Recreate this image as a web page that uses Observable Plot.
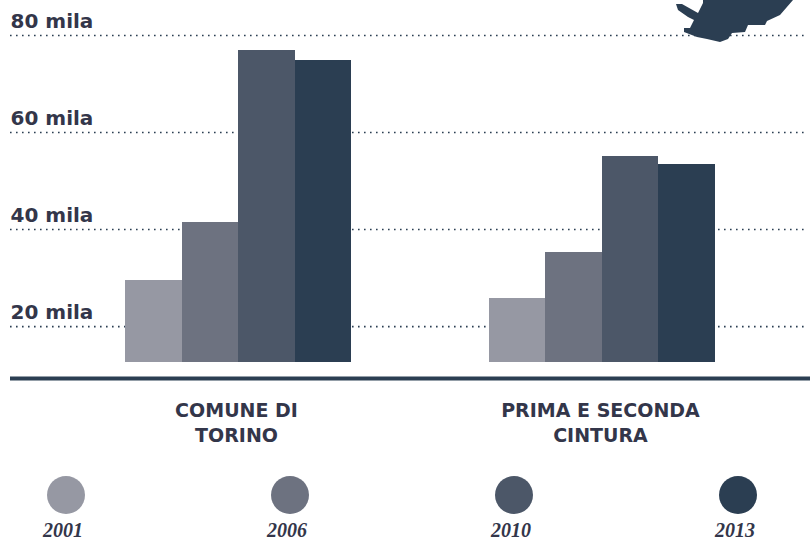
<!DOCTYPE html>
<html><head><meta charset="utf-8">
<script src="https://cdn.jsdelivr.net/npm/d3@7"></script>
<script src="https://cdn.jsdelivr.net/npm/@observablehq/plot@0.6"></script>
<style>
html,body{margin:0;padding:0;background:#fff;overflow:hidden}
#legend{position:absolute;left:0;top:476px;width:810px;height:65px;display:flex;gap:92px}
.it{width:132px;text-align:center}
.dot{display:block;width:38px;height:38px;border-radius:50%;margin:0 auto}
.lab{display:block;margin:7px 6px 0 0;font:italic bold 20px "Liberation Serif",serif;color:#33364a;line-height:18px}
</style></head><body>
<div id="chart"></div>
<div id="legend"></div>
<script>
const groups = ["COMUNE DI\nTORINO", "PRIMA E SECONDA\nCINTURA"];
const years = ["2001", "2006", "2010", "2013"];
const colors = ["#9698a3", "#6d7280", "#4c5768", "#2b3e52"];
const torino = [29.5, 41.4, 76.9, 74.8];
const cintura = [25.8, 35.3, 55.0, 53.4];
const yTicks = [20, 40, 60, 80];
const barBase = 12.6;
const axisLine = 9.3;

const rows = [
  ...years.map((year, i) => ({group: groups[0], year, value: torino[i]})),
  ...years.map((year, i) => ({group: groups[1], year, value: cintura[i]}))
];
const mapPath = "M703,0L703,3L698,13L682,4L676,4L678,10L688,17L694,20L690,28L684,28L684,32L697,37L707,39L720,42L728,39L732,33L745,32L748,25L765,25L767,21L780,15L793,0Z";

const chart = Plot.plot({
  width: 810, height: 450,
  marginLeft: 125, marginRight: 95, marginTop: 0, marginBottom: 72,
  fx: {domain: groups, paddingInner: 0.379, paddingOuter: 0, round: false, label: null},
  x: {domain: years, padding: 0, round: false, axis: null},
  y: {domain: [barBase, 80], range: [362, 35], label: null},
  color: {domain: years, range: colors},
  style: {background: "transparent"},
  marks: [
    Plot.ruleY(yTicks, {fx: () => groups[0], stroke: "#2b3e52", strokeWidth: 1.6, strokeDasharray: "1.6 4.4", insetLeft: -115, insetRight: -455}),
    Plot.ruleY([axisLine], {fx: () => groups[0], stroke: "#2b3e52", strokeWidth: 4, insetLeft: -115, insetRight: -460}),
    Plot.barY(rows, {fx: "group", x: "year", y1: barBase, y2: "value", fill: "year", shapeRendering: "crispEdges"}),
    Plot.axisY({anchor: "left", ticks: yTicks, tickSize: 0, tickFormat: d => d + " mila", textAnchor: "start", dx: -115, dy: -14, tickPadding: 0, fontSize: 20, fontWeight: 700, fontFamily: "DejaVu Sans", fill: "#33364a", label: null}),
    Plot.axisFx({anchor: "bottom", tickSize: 0, tickPadding: 21, dx: -2, lineHeight: 1.32, fontSize: 19, fontWeight: 700, fontFamily: "DejaVu Sans", fill: "#33364a", label: null, lineWidth: 30}),
    () => {
      const p = document.createElementNS("http://www.w3.org/2000/svg", "path");
      p.setAttribute("d", mapPath);
      p.setAttribute("fill", "#2b3e52");
      return p;
    }
  ]
});
document.getElementById("chart").append(chart);
const lg = document.getElementById("legend");
years.forEach((y, i) => {
  const it = document.createElement("div"); it.className = "it";
  it.innerHTML = `<span class="dot" style="background:${colors[i]}"></span><span class="lab">${y}</span>`;
  lg.append(it);
});
</script></body></html>
